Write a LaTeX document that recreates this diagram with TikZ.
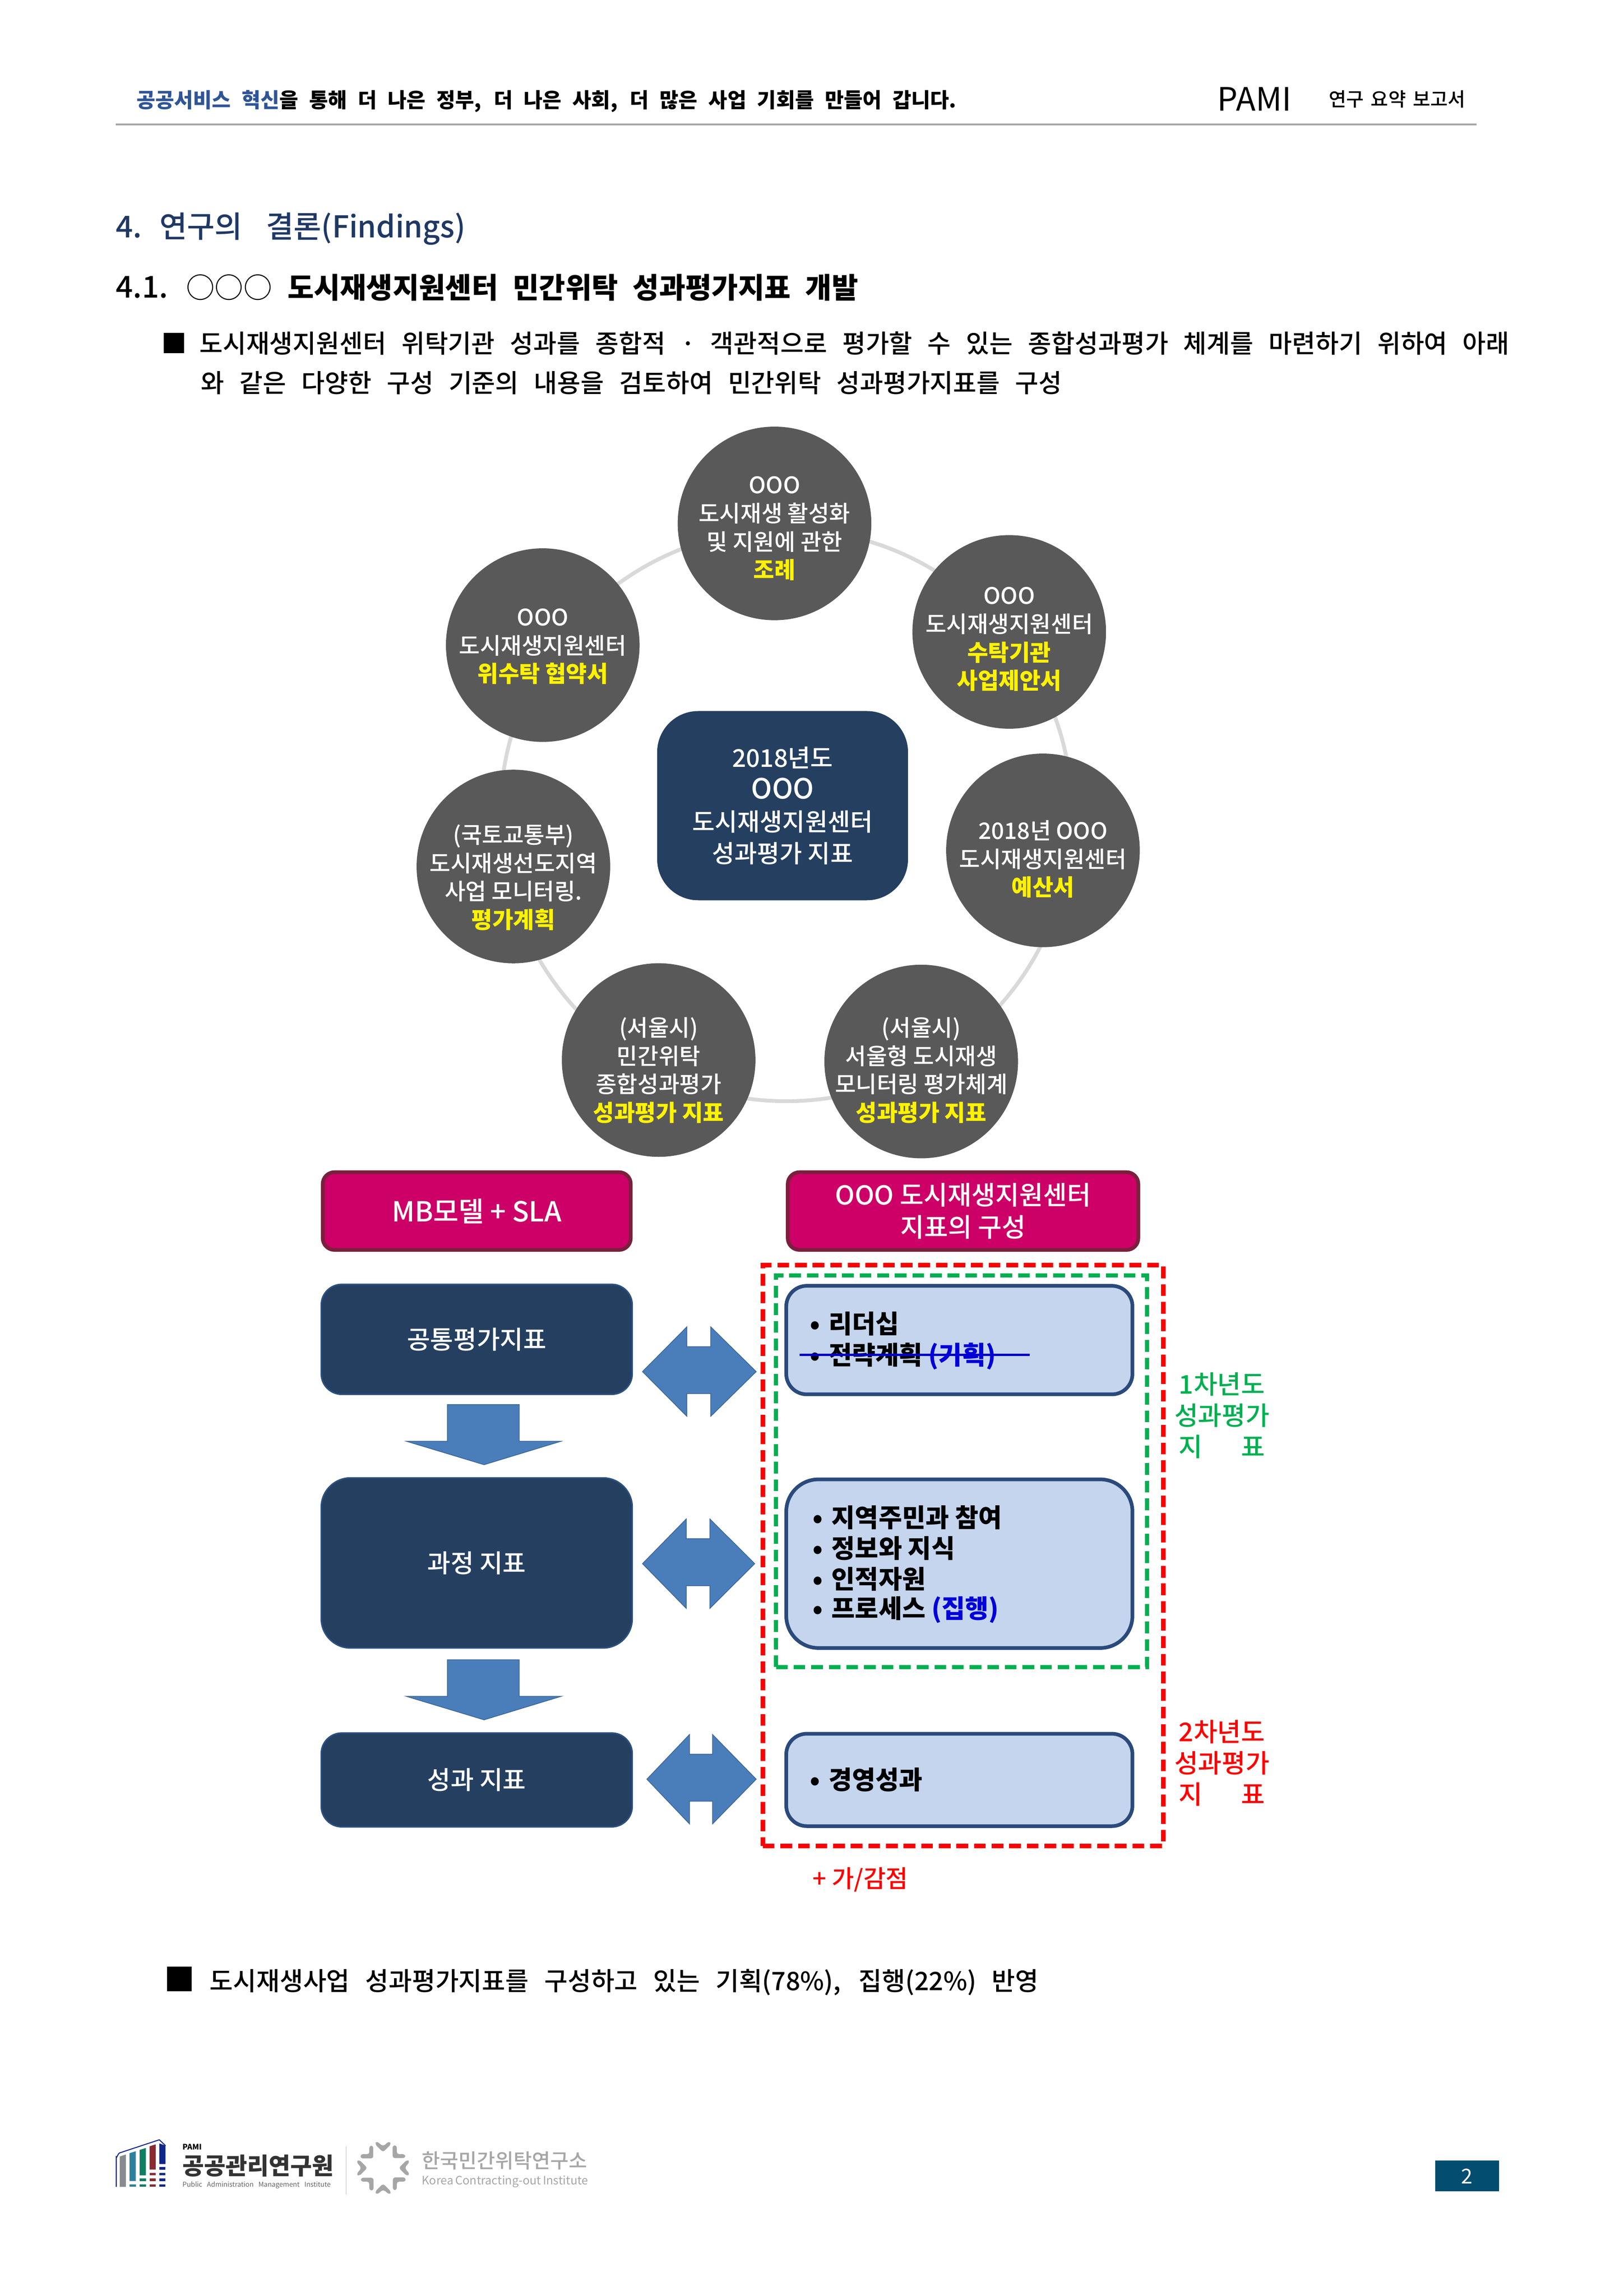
\documentclass[tikz,border=0pt]{standalone}
\usepackage{fontspec}
\setmainfont{Noto Sans CJK KR}
\newfontfamily\med{Noto Sans CJK KR Medium}
\usetikzlibrary{calc}
\newlength\du \setlength\du{0.044815cm}
\newcommand\fs[2]{\fontsize{\fpeval{#1*1.2751}}{\fpeval{#2*1.2751}}\selectfont}
\newcommand\fitw[2]{\makebox[#1\du][s]{#2}}
\definecolor{navy}{HTML}{243F60}
\definecolor{navyedge}{HTML}{2C5080}
\definecolor{ringgray}{HTML}{D9D9D9}
\definecolor{disc}{HTML}{595959}
\definecolor{mag}{HTML}{CC0066}
\definecolor{magedge}{HTML}{7A1F3D}
\definecolor{pale}{HTML}{C5D5EE}
\definecolor{paleedge}{HTML}{2A4A7C}
\definecolor{arrowblue}{HTML}{4A7EBB}
\definecolor{headblue}{HTML}{2F5597}
\definecolor{secblue}{HTML}{1F3864}
\definecolor{grnk}{HTML}{00B050}
\definecolor{strike}{HTML}{0000D8}
\definecolor{teal}{HTML}{024D70}
\definecolor{loggray}{HTML}{A6A6A6}
\definecolor{lgA}{HTML}{878B8E}
\definecolor{lgB}{HTML}{2E80A0}
\definecolor{lgC}{HTML}{0E7F63}
\definecolor{lgD}{HTML}{8A2B30}
\definecolor{lgE}{HTML}{10288A}
\tikzset{
 x=0.044815cm,y=-0.044802cm,
 txt/.style={anchor=west,inner sep=0pt,outer sep=0pt},
 discnode/.style={circle,fill=disc,minimum size=132\du,inner sep=0pt},
 disctext/.style={inner sep=0pt,align=center,text=white,font=\med\fs{15.5}{19.3}},
 centerbox/.style={rounded corners=28\du,fill=navy,minimum width=171\du,minimum height=129\du,inner sep=0pt,align=center,text=white,font=\med\fs{16.7}{21.7}},
 magbox/.style={rounded corners=8\du,fill=mag,draw=magedge,line width=2.5\du,inner sep=0pt,align=center,text=white,font=\med\fs{17.7}{22}},
 navybox/.style={fill=navy,draw=navyedge,line width=1\du,inner sep=0pt,align=center,text=white,font=\med\fs{17.2}{20}},
 palebox/.style={fill=pale,draw=paleedge,line width=2.5\du,inner sep=0pt},
 blockarrow/.style={fill=arrowblue,draw=arrowblue!80!black,line width=.5\du},
 item/.style={txt,font=\bfseries\fs{17.4}{21}},
 side/.style={anchor=north,inner sep=0pt,align=center,font=\med\fs{17.6}{21.3}},
}
\newcommand\yel[1]{\textcolor{yellow}{\textbf{#1}}}
\newcommand\bul{•\hspace{6\du}}
\begin{document}
\begin{tikzpicture}
\useasboundingbox (0,0) rectangle (1107,1566);
% header
\node[txt,font=\bfseries\fs{14}{16}] (hdr) at (93,69) {\fitw{559}{\textcolor{headblue}{공공서비스 혁신}을 통해 더 나은 정부, 더 나은 사회, 더 많은 사업 기회를 만들어 갑니다.}};
\node[txt,font=\fs{22}{24}] (pami) at (830,67.5) {PAMI};
\node[txt,font=\med\fs{13}{15}] (rep) at (906,67.5) {\fitw{93}{연구 요약 보고서}};
\coordinate (ruleL) at (79,85); \coordinate (ruleR) at (1006.5,85);
\draw[loggray,line width=1.2\du] (ruleL) -- (ruleR);
% headings
\node[txt,font=\med\fs{20.5}{24},text=secblue] (h4) at (79,156) {4.\hspace{12\du}연구의\hspace{16\du}결론(Findings)};
\node[txt,font=\med\fs{20.5}{24}] (h41a) at (79,196) {4.1.};
\node[txt,font=\fs{19.5}{24}] (h41b) at (127,196) {○○○};
\node[txt,font=\bfseries\fs{19.5}{24}] (h41c) at (196,196) {\fitw{389}{도시재생지원센터 민간위탁 성과평가지표 개발}};
\node[txt,font=\fs{17.3}{20}] (b1) at (110,234) {■};
\node[txt,font=\med\fs{17.3}{20}] (l1) at (136,234) {\fitw{893}{도시재생지원센터 위탁기관 성과를 종합적 · 객관적으로 평가할 수 있는 종합성과평가 체계를 마련하기 위하여 아래}};
\node[txt,font=\med\fs{17.3}{20}] (l2) at (137,261) {\fitw{587}{와 같은 다양한 구성 기준의 내용을 검토하여 민간위탁 성과평가지표를 구성}};
% ring
\node[circle,draw=ringgray,line width=2.6\du,minimum size=390\du,inner sep=0pt] (ring) at (536,556) {};
% discs
\node[discnode] (d1) at (528,357) {};
\node[discnode] (d2) at (688,431) {};
\node[discnode] (d3) at (711,580) {};
\node[discnode] (d4) at (628,724) {};
\node[discnode] (d5) at (449,723) {};
\node[discnode] (d6) at (350,591) {};
\node[discnode] (d7) at (370,440) {};
\node[disctext] (d1t) at (528,360.5) {OOO\\도시재생 활성화\\및 지원에 관한\\\yel{조례}};
\node[disctext] (d2t) at (688,436) {OOO\\도시재생지원센터\\\yel{수탁기관}\\\yel{사업제안서}};
\node[disctext] (d3t) at (711,586) {2018년 OOO\\도시재생지원센터\\\yel{예산서}};
\node[disctext] (d4t) at (628,730) {(서울시)\\서울형 도시재생\\모니터링 평가체계\\\yel{성과평가 지표}};
\node[disctext] (d5t) at (449,730) {(서울시)\\민간위탁\\종합성과평가\\\yel{성과평가 지표}};
\node[disctext] (d6t) at (350,598.5) {(국토교통부)\\도시재생선도지역\\사업 모니터링.\\\yel{평가계획}};
\node[disctext] (d7t) at (370,441) {OOO\\도시재생지원센터\\\yel{위수탁 협약서}};
\node[centerbox] (core) at (533.5,549.5) {2018년도\\{\fs{19}{21.7}OOO}\\도시재생지원센터\\성과평가 지표};
% magenta headers
\node[magbox,minimum width=210\du,minimum height=53\du,font=\med\fs{18.8}{22}] (m1) at (325,826) {MB모델 + SLA};
\node[magbox,minimum width=239\du,minimum height=53\du] (m2) at (656.5,826) {OOO 도시재생지원센터\\지표의 구성};
% left boxes
\node[navybox,rounded corners=14\du,minimum width=212\du,minimum height=75\du] (n1) at (325,913.5) {공통평가지표};
\node[navybox,rounded corners=20\du,minimum width=212\du,minimum height=116\du] (n2) at (325,1066) {과정 지표};
\node[navybox,rounded corners=14\du,minimum width=212\du,minimum height=64\du] (n3) at (325,1214) {성과 지표};
% right boxes
\node[palebox,rounded corners=14\du,minimum width=236\du,minimum height=74\du] (p1) at (654,914) {};
\node[palebox,rounded corners=22\du,minimum width=236\du,minimum height=115\du] (p2) at (654,1066.5) {};
\node[palebox,rounded corners=14\du,minimum width=236\du,minimum height=63\du] (p3) at (654,1214) {};
\node[item] (t1) at (552,903) {\bul 리더십};
\node[item] (t2) at (552,925) {\bul 전략계획 \textcolor{strike}{(기획)}};
\coordinate (sL) at (545,924); \coordinate (sR) at (702,924);
\draw[strike,line width=1.5\du] (sL) -- (sR);
\node[item] (t3) at (554,1035) {\bul 지역주민과 참여};
\node[item] (t4) at (554,1056) {\bul 정보와 지식};
\node[item] (t5) at (554,1077) {\bul 인적자원};
\node[item] (t6) at (554,1098) {\bul 프로세스 \textcolor{strike}{(집행)}};
\node[item] (t7) at (552,1214) {\bul 경영성과};
% block arrows
\newcommand\dbl[4]{% left right top centre
 \path[blockarrow] (#1,#4) -- ({#1+0.39*(#2-#1)},{#4-30.5}) -- ({#1+0.39*(#2-#1)},{#4-17}) -- ({#1+0.6*(#2-#1)},{#4-17}) -- ({#1+0.6*(#2-#1)},{#4-30.5}) -- (#2,#4) -- ({#1+0.6*(#2-#1)},{#4+30.5}) -- ({#1+0.6*(#2-#1)},{#4+15}) -- ({#1+0.39*(#2-#1)},{#4+15}) -- ({#1+0.39*(#2-#1)},{#4+30.5}) -- cycle;}
\dbl{438}{515.5}{905}{935.5}
\dbl{438}{514.5}{1036}{1066.5}
\dbl{441}{515.5}{1183}{1213.5}
\newcommand\dwn[1]{%
 \path[blockarrow] (305,#1) -- (354,#1) -- (354,{#1+25}) -- (382.5,{#1+25}) -- (330,{#1+41}) -- (277,{#1+25}) -- (305,{#1+25}) -- cycle;}
\dwn{958}
\dwn{1132}
% dashed frames
\node[draw=red,dashed,line width=3\du,dash pattern=on 8\du off 4\du,minimum width=273\du,minimum height=396\du,inner sep=0pt] (fr) at (656.5,1061) {};
\node[draw=grnk,dashed,line width=3\du,dash pattern=on 8\du off 4\du,minimum width=253\du,minimum height=267\du,inner sep=0pt] (fg) at (655.5,1003.5) {};
\node[side,text=grnk] (g1) at (833,936) {1차년도\\성과평가\\지\hspace{1.5em}표};
\node[side,text=red] (r1) at (833,1173) {2차년도\\성과평가\\지\hspace{1.5em}표};
\node[txt,text=red,font=\med\fs{16.5}{20}] (pm) at (554,1282) {+ 가/감점};
% last line
\node[txt,font=\fs{21}{24}] (b2) at (112,1350) {■};
\node[txt,font=\med\fs{17.3}{20}] (l3) at (143,1352) {\fitw{565}{도시재생사업 성과평가지표를 구성하고 있는 기획(78\%), 집행(22\%) 반영}};
% footer, in pixels of the page
\begin{scope}[x=0.01cm,y=-0.01cm]
\fill[lgA] (366,6686) -- (366,6593) -- (385,6587) -- (385,6686) -- cycle;
\fill[lgB] (396,6668) -- (396,6583) -- (415,6577) -- (415,6668) -- cycle;
\fill[lgC] (427,6651) -- (427,6573) -- (446,6567) -- (446,6651) -- cycle;
\fill[lgD] (457,6633) -- (457,6562) -- (476,6556) -- (476,6633) -- cycle;
\fill[lgE] (487,6616) -- (487,6553) -- (506,6560) -- (506,6616) -- cycle;
\fill[lgB] (396,6678) rectangle (415,6686);
\fill[lgC] (427,6660) rectangle (446,6668);
\fill[lgC] (427,6678) rectangle (446,6686);
\foreach \yy in {6643,6660,6678}{\fill[lgD] (457,\yy) rectangle (476,\yy+8);}
\foreach \yy in {6625,6643,6660,6678}{\fill[lgE] (487,\yy) rectangle (506,\yy+8);}
\draw[lgE,line width=0.85pt] (355.5,6686) -- (355.5,6595) to[out=-90,in=200] (366,6582) -- (487,6542) -- (506,6560);
\node[txt,font=\bfseries\fs{5.2}{6}] (lp) at (558,6564) {PAMI};
\node[txt,font=\bfseries\fs{16}{18},text=black!80] (l4) at (558,6621) {\fitw{102}{공공관리연구원}};
\node[txt,font=\fs{4.6}{6},text=black!60] (l5) at (558,6680) {\fitw{101}{Public Administration Management Institute}};
\coordinate (dA) at (1058,6562); \coordinate (dB) at (1058,6710);
\draw[black!25,line width=.4pt] (dA) -- (dB);
\foreach \a in {0,90,180,270}{
 \begin{scope}[shift={(1171,6628)},rotate=\a]
  \fill[loggray,rounded corners=2] (-73,-25) -- (-48,0) -- (-73,25) -- (-82,20) -- (-66,0) -- (-82,-19) -- cycle;
  \fill[loggray,rounded corners=2] (-68,30) -- (-29,30) -- (-29,69) -- (-42,69) -- (-42,42) -- (-68,42) -- cycle;
 \end{scope}}
\node[txt,font=\med\fs{13.6}{16},text=loggray] (l6) at (1290,6606) {\fitw{113}{한국민간위탁연구소}};
\node[txt,font=\fs{7.9}{10},text=loggray] (l7) at (1290,6670) {\fitw{113}{Korea Contracting-out Institute}};
\node[fill=teal,minimum width=195*0.01cm,minimum height=94*0.01cm,inner sep=0pt,text=white,font=\fs{14}{16}] (pg) at (4484.5,6653) {2};
\end{scope}
\end{tikzpicture}
\end{document}
